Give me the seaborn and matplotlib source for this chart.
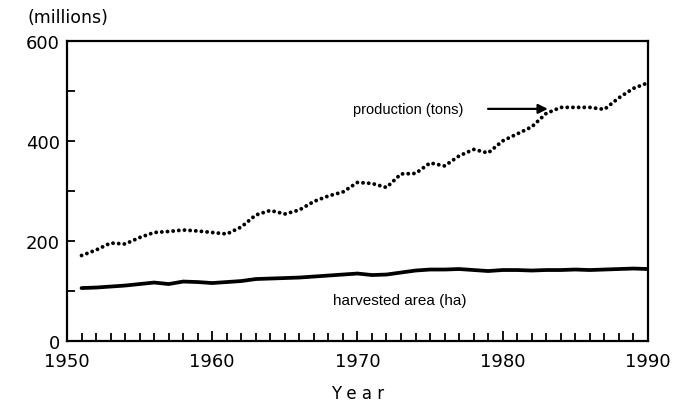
import matplotlib
matplotlib.use("Agg")
import matplotlib.pyplot as plt
from matplotlib.ticker import MultipleLocator
import seaborn as sns
import pandas as pd

# Values (millions), one per year
years = list(range(1951, 1991))
production = [171, 182, 196, 194, 207, 217, 219, 222, 220, 217,
              214, 228, 252, 261, 254, 262, 279, 290, 298, 317,
              315, 307, 334, 335, 356, 350, 370, 383, 376, 400,
              414, 428, 455, 467, 467, 467, 463, 486, 505, 516]
harvested = [106, 107, 109, 111, 114, 117, 114, 119, 118, 116,
             118, 120, 124, 125, 126, 127, 129, 131, 133, 135,
             132, 133, 137, 141, 143, 143, 144, 142, 140, 142,
             142, 141, 142, 142, 143, 142, 143, 144, 145, 144]

df = pd.DataFrame({"year": years, "production": production, "harvested": harvested})

sns.set_style("ticks")
plt.rcParams['font.family'] = ['DejaVu Sans']
plt.rcParams['text.color'] = 'black'
plt.rcParams['axes.labelcolor'] = 'black'
plt.rcParams['xtick.color'] = 'black'
plt.rcParams['ytick.color'] = 'black'

fig = plt.figure(figsize=(6.77, 4.02), dpi=100)
ax = fig.add_axes([0.099, 0.149, 0.858, 0.747])

sns.lineplot(data=df, x="year", y="production", ax=ax, color="black",
             linewidth=2.8, linestyle=(0, (0.01, 1.45)), dash_capstyle="round")
sns.lineplot(data=df, x="year", y="harvested", ax=ax, color="black",
             linewidth=2.7)

ax.set_xlim(1950, 1990)
ax.set_ylim(0, 600)
ax.xaxis.set_major_locator(MultipleLocator(10))
ax.xaxis.set_minor_locator(MultipleLocator(1))
ax.yaxis.set_major_locator(MultipleLocator(200))
ax.yaxis.set_minor_locator(MultipleLocator(100))
ax.tick_params(axis="both", which="both", direction="in", width=1.3)
ax.tick_params(axis="x", which="major", length=7.5, labelsize=13, pad=8)
ax.tick_params(axis="x", which="minor", length=5.5)
ax.tick_params(axis="y", which="major", length=6, labelsize=13, pad=5)
ax.tick_params(axis="y", which="minor", length=6)

for side in ["left", "right", "top", "bottom"]:
    ax.spines[side].set_visible(True)
    ax.spines[side].set_linewidth(1.6)
    ax.spines[side].set_color("black")

ax.set_xlabel("Y e a r", fontsize=12, labelpad=10)
ax.set_ylabel("")
fig.text(0.041, 0.955, "(millions)", fontsize=12.5, ha="left", va="center")

ax.text(1977.3, 464, "production (tons)", fontsize=10.5, ha="right", va="center",
        family=["Liberation Sans", "DejaVu Sans"])
ax.annotate("", xy=(1983.3, 464), xytext=(1978.8, 464),
            arrowprops=dict(arrowstyle="-|>", color="black", lw=1.6,
                            mutation_scale=14))
ax.text(1972.9, 82, "harvested area (ha)", fontsize=11, ha="center", va="center",
        family=["Liberation Sans", "DejaVu Sans"])

fig.savefig("out.png", dpi=100)
